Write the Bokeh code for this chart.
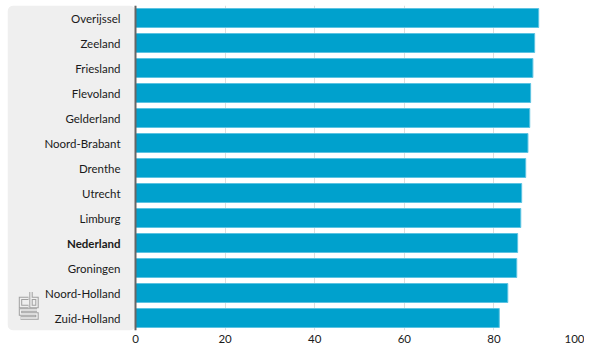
from bokeh.plotting import figure
from bokeh.models import Range1d, FixedTicker, Span, ColumnDataSource
from bokeh.core.properties import value
from bokeh.embed import file_html
from bokeh.resources import INLINE

regions = ["Overijssel", "Zeeland", "Friesland", "Flevoland", "Gelderland",
           "Noord-Brabant", "Drenthe", "Utrecht", "Limburg", "Nederland",
           "Groningen", "Noord-Holland", "Zuid-Holland"]
values = [90.0, 89.1, 88.7, 88.2, 88.0, 87.6, 87.1, 86.2, 86.0, 85.3, 85.1, 83.1, 81.2]
ticks = [0, 20, 40, 60, 80, 100]

n = len(regions)
ypos = [n - 1 - i for i in range(n)]
styles = ["bold" if r == "Nederland" else "normal" for r in regions]

src = ColumnDataSource(dict(y=ypos, v=values, name=regions, zero=[0] * n, style=styles))

FONT = "Lato"
W, H = 584, 345
FRAME_L, AX0, AX100 = 7, 135, 583          # pixel layout
FRAME_T, BORDER_B = 5, 15
xscale = (AX100 - AX0) / 100.0
xstart = -(AX0 - FRAME_L) / xscale

p = figure(width=W, height=H, output_backend="svg", toolbar_location=None,
           x_range=Range1d(xstart, 100), y_range=Range1d(-0.5, n - 0.5),
           min_border_left=FRAME_L, min_border_right=W - AX100,
           min_border_top=FRAME_T, min_border_bottom=BORDER_B)
p.outline_line_color = None
p.background_fill_color = "white"
p.border_fill_color = "white"

# grey label panel
p.quad(left=[xstart], right=[0], bottom=[-0.5], top=[n - 0.5], fill_color="#efefef",
       line_color=None, border_radius=6)

p.hbar(y="y", left=0, right="v", height=0.76, source=src, fill_color="#00a1cd",
       line_color="#5cc3e2", line_width=1)

p.text(x="zero", y="y", text="name", source=src, x_offset=-15, text_align="right",
       text_baseline="middle", text_font=value(FONT), text_font_size="11.5px",
       text_font_style="style", text_color="#1a1a1a")

# cbs logo (decoration), pixel offsets from the panel's bottom-left corner
frame_h = H - FRAME_T - BORDER_B - 1
ys = frame_h / n
def lx(px):
    return xstart + px / xscale
def ly(py):
    return -0.5 + py / ys
logo = [
    [(21, 32), (13, 32), (13, 24), (21, 24)],                        # c
    [(23.5, 38.5), (23.5, 24), (29.5, 24), (29.5, 32), (23.5, 32)],  # b
    [(29.5, 20.5), (13, 20.5), (13, 16.5), (29.5, 16.5), (29.5, 12.5), (13, 12.5)],  # s
]
lxs = [[lx(a) for a, b in path] for path in logo]
lys = [[ly(b) for a, b in path] for path in logo]
p.multi_line(xs=lxs, ys=lys, line_color="#a0a0a0", line_width=3.4, line_join="miter", line_cap="butt")
p.multi_line(xs=lxs, ys=lys, line_color="#efefef", line_width=1.4, line_join="miter", line_cap="butt")

p.add_layout(Span(location=0, dimension="height", line_color="#666666", line_width=2))

p.yaxis.visible = False
p.ygrid.visible = False
p.xaxis.ticker = FixedTicker(ticks=ticks)
p.xgrid.ticker = FixedTicker(ticks=ticks)
p.xgrid.grid_line_color = "#dddddd"
p.xaxis.axis_line_color = None
p.xaxis.major_tick_line_color = None
p.xaxis.minor_tick_line_color = None
p.xaxis.major_tick_out = 0
p.xaxis.major_label_standoff = 4
p.xaxis.major_label_text_font = FONT
p.xaxis.major_label_text_font_size = "11.5px"
p.xaxis.major_label_text_color = "#1a1a1a"

open("out.html", "w").write(file_html(p, INLINE))
